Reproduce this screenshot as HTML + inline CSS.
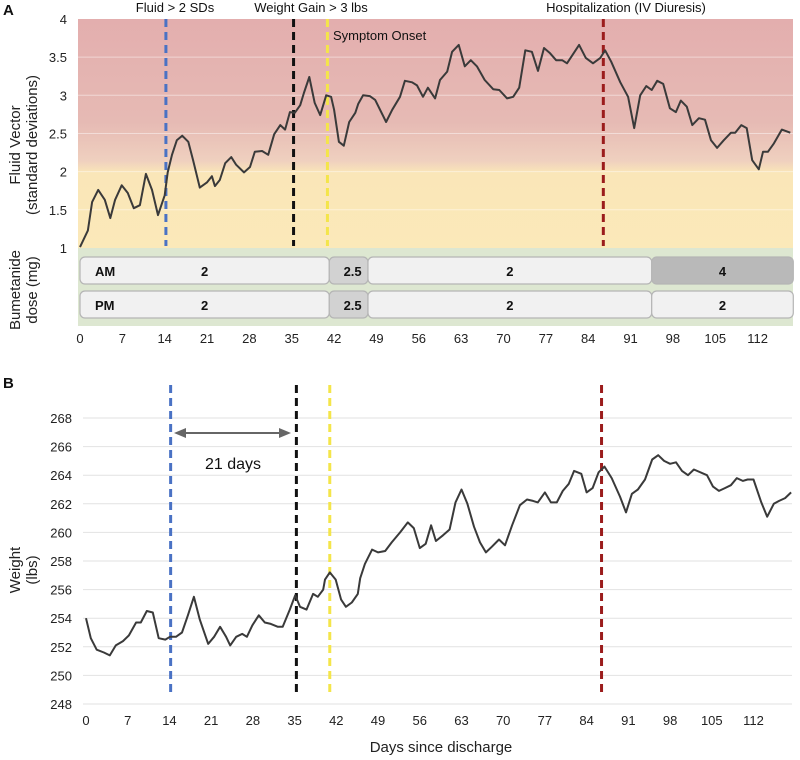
<!DOCTYPE html>
<html><head><meta charset="utf-8"><style>
body{margin:0;background:#fff;}
svg{display:block;font-family:"Liberation Sans",Arial,sans-serif;}
</style></head><body>
<svg id="chart" width="800" height="760" viewBox="0 0 800 760">
<defs>
<linearGradient id="bgA" x1="0" y1="0" x2="0" y2="1">
<stop offset="0" stop-color="#e3aeae"/>
<stop offset="0.45" stop-color="#e6bab4"/>
<stop offset="0.62" stop-color="#efd0bf"/>
<stop offset="0.67" stop-color="#fae6b8"/>
<stop offset="1" stop-color="#fbe9b9"/>
</linearGradient>
</defs>
<g id="pa"></g>
<g id="pb"></g>
</svg>
<script>
const aDays=[0,1.3,2.0,3.0,4.1,5.0,5.8,6.9,7.9,8.9,9.9,10.9,11.9,12.9,14.0,14.5,15.2,16.0,16.9,17.9,18.7,19.8,21.0,21.8,22.3,23.1,24.0,25.0,25.8,27.1,28.1,28.9,30.1,31.1,32.1,33.1,33.9,34.7,35.5,36.4,37.0,37.9,38.8,39.7,40.7,41.5,42.0,42.8,43.6,44.5,45.5,46.0,46.8,47.9,48.8,50.6,51.6,52.9,53.7,54.9,55.7,56.7,57.5,58.7,59.5,60.7,61.5,62.6,63.6,64.6,65.6,66.9,68.3,69.3,70.6,71.6,72.6,73.6,74.7,75.7,76.7,77.7,78.7,79.7,80.5,81.5,82.5,83.6,84.8,86.0,86.8,87.8,89.3,90.6,91.6,92.6,93.6,94.5,95.4,96.4,97.5,98.5,99.3,100.3,101.2,102.3,103.3,104.3,105.3,106.4,107.6,108.3,109.3,110.2,111.1,112.2,112.9,113.7,114.7,116.0,117.4];
const aVals=[1.01,1.23,1.6,1.76,1.63,1.39,1.63,1.82,1.72,1.52,1.56,1.97,1.76,1.43,1.69,1.99,2.22,2.41,2.47,2.39,2.15,1.79,1.86,1.94,1.81,1.89,2.11,2.19,2.09,1.99,2.06,2.26,2.27,2.22,2.49,2.61,2.55,2.78,2.77,2.87,3.03,3.24,2.9,2.74,3.0,2.98,2.81,2.39,2.34,2.65,2.77,2.89,3.0,2.99,2.94,2.65,2.81,2.98,3.19,3.17,3.13,2.98,3.1,2.96,3.2,3.31,3.57,3.66,3.38,3.46,3.38,3.2,3.08,3.07,2.96,2.98,3.1,3.59,3.57,3.32,3.62,3.55,3.46,3.46,3.42,3.54,3.66,3.49,3.42,3.49,3.59,3.44,3.17,2.98,2.57,3.0,3.12,3.07,3.19,3.15,2.83,2.78,2.93,2.85,2.61,2.7,2.68,2.41,2.31,2.41,2.51,2.51,2.61,2.57,2.15,2.03,2.26,2.26,2.37,2.55,2.51];
const bDays=[0,0.8,1.8,3,4,5,6.2,7.2,8.4,9.2,10.2,11.2,12.2,13.3,14.1,15.1,16.1,17.1,18.1,19.1,20.5,21.5,22.5,23.5,24.2,25.2,26.2,27,27.9,29,30,31,32.2,33,34.2,35.1,35.9,37,38.1,38.9,39.8,40.1,40.9,41.9,42.8,43.6,44.6,45.6,46,46.8,48,49,50.2,51.3,52.7,54,55,56,57,57.9,58.7,59.9,61,62,63,64,65.1,66.1,67.1,68.1,69.3,70.3,71.5,72.8,74,75,75.8,77,78,79,80,81,81.9,83.1,84,85,86,87,88.2,89.6,90.6,91.6,92.6,93.8,95,96,97,98,99,100,101,102,104.2,105.2,106.2,107.2,108.2,109.2,110.2,111,112,113.3,114.3,115.4,116.3,117.3,118.3];
const bVals=[254.0,252.6,251.8,251.6,251.4,252.1,252.4,252.8,253.7,253.7,254.5,254.4,252.6,252.5,252.7,252.7,253.0,254.2,255.5,253.9,252.2,252.7,253.4,252.7,252.1,252.7,252.9,252.7,253.5,254.2,253.7,253.6,253.4,253.4,254.6,255.6,254.8,254.6,255.7,255.5,256.0,256.7,257.2,256.7,255.3,254.8,255.1,255.7,256.8,257.8,258.8,258.6,258.7,259.3,260.0,260.7,260.3,258.9,259.2,260.5,259.4,259.8,260.2,262.1,263.0,262.0,260.4,259.3,258.6,259.0,259.5,259.1,260.5,261.9,262.3,262.2,262.1,262.8,262.1,262.1,262.9,263.4,264.3,264.1,262.8,263.1,264.2,264.6,263.8,262.5,261.4,262.7,263.0,263.7,265.1,265.4,265.0,264.8,264.9,264.3,264.0,264.4,264.0,263.2,262.9,263.1,263.3,263.8,263.6,263.7,263.7,262.1,261.1,262.0,262.2,262.4,262.8,262.5];
const xTicks=[0,7,14,21,28,35,42,49,56,63,70,77,84,91,98,105,112];
const aYTicks=[1,1.5,2,2.5,3,3.5,4];
const bYTicks=[248,250,252,254,256,258,260,262,264,266,268];
const eventDays=[14.2,35.3,40.9,86.5];
const eventColors=['#4a72c4','#111111','#f4e54a','#9b1c1c'];
const amDoses=[{s:0,e:41.2,v:'2'},{s:41.2,e:47.6,v:'2.5'},{s:47.6,e:94.5,v:'2'},{s:94.5,e:117.9,v:'4'}];
const pmDoses=[{s:0,e:41.2,v:'2'},{s:41.2,e:47.6,v:'2.5'},{s:47.6,e:94.5,v:'2'},{s:94.5,e:117.9,v:'2'}];

const NS='http://www.w3.org/2000/svg';
function mk(p,t,a,txt){const e=document.createElementNS(NS,t);for(const k in a)e.setAttribute(k,a[k]);if(txt!==undefined)e.textContent=txt;p.appendChild(e);return e;}
const xA=d=>80+d*6.05, yA=v=>19+(4-v)*76.3;
const xB=d=>86+d*5.96, yB=v=>418+(268-v)*14.3;
const pa=document.getElementById('pa'), pb=document.getElementById('pb');

// Panel A
let r=mk(pa,'rect',{x:78,y:19,width:715,height:229,fill:'url(#bgA)'});


r=mk(pa,'rect',{x:78,y:248,width:715,height:78,fill:'#dde7d1'});


aYTicks.forEach(v=>{
  if(v>1&&v<4){const g=mk(pa,'line',{x1:78,x2:793,y1:yA(v),y2:yA(v),stroke:'#ffffff','stroke-opacity':0.45,'stroke-width':1});
  
  }
  const t=mk(pa,'text',{x:67,y:yA(v)+5,'text-anchor':'end','font-size':13,fill:'#222'},String(v));
  
  
});
function doseRow(arr,y,label){
  arr.forEach((d,i)=>{
    const fill=d.v==='4'?'#b9b9b9':(d.v==='2.5'?'#d2d2d2':'#f1f1f1');
    const b=mk(pa,'rect',{x:xA(d.s),y:y,width:xA(d.e)-xA(d.s),height:27,rx:5,fill:fill,stroke:'#b5b5b5','stroke-width':1.2});
    
    
    const t=mk(pa,'text',{x:(xA(d.s)+xA(d.e))/2+(d.v==='2.5'?4:0),y:y+19,'text-anchor':'middle','font-size':13,'font-weight':'bold',fill:'#111'},d.v);
    
    
  });
  const l=mk(pa,'text',{x:95,y:y+19,'font-size':13,'font-weight':'bold',fill:'#111'},label);
  
  
}
doseRow(amDoses,257,'AM');
doseRow(pmDoses,291,'PM');
xTicks.forEach(d=>{
  const t=mk(pa,'text',{x:xA(d),y:343,'text-anchor':'middle','font-size':13,fill:'#222'},String(d));
  
  
});
eventDays.forEach((d,i)=>{
  const l=mk(pa,'line',{x1:xA(d),x2:xA(d),y1:19,y2:246,stroke:eventColors[i],'stroke-width':3,'stroke-dasharray':'8,5'});
  
  
});
let pts=aDays.map((d,i)=>xA(d).toFixed(1)+','+yA(aVals[i]).toFixed(1)).join(' ');
let pl=mk(pa,'polyline',{points:pts,fill:'none',stroke:'#3a3a3a','stroke-width':2,'stroke-linejoin':'round'});


[['Fluid > 2 SDs',175,12,'middle'],['Weight Gain > 3 lbs',311,12,'middle'],['Symptom Onset',333,40,'start'],['Hospitalization (IV Diuresis)',626,12,'middle']].forEach(a=>{
  const t=mk(pa,'text',{x:a[1],y:a[2],'text-anchor':a[3],'font-size':13,fill:'#111'},a[0]);
  
  
});
let t=mk(pa,'text',{x:3,y:15,'font-size':15,'font-weight':'bold',fill:'#111'},'A');


t=mk(pa,'text',{transform:'translate(20,145) rotate(-90)','text-anchor':'middle','font-size':15,fill:'#222'},'Fluid Vector');


t=mk(pa,'text',{transform:'translate(37,145) rotate(-90)','text-anchor':'middle','font-size':15,fill:'#222'},'(standard deviations)');


t=mk(pa,'text',{transform:'translate(20,290) rotate(-90)','text-anchor':'middle','font-size':15,fill:'#222'},'Bumetanide');


t=mk(pa,'text',{transform:'translate(37,290) rotate(-90)','text-anchor':'middle','font-size':15,fill:'#222'},'dose (mg)');



// Panel B
bYTicks.forEach(v=>{
  const g=mk(pb,'line',{x1:83,x2:792,y1:yB(v),y2:yB(v),stroke:'#e2e2e2','stroke-width':1});
  
  
  const t=mk(pb,'text',{x:72,y:yB(v)+5,'text-anchor':'end','font-size':13,fill:'#222'},String(v));
  
  
});
xTicks.forEach(d=>{
  const t=mk(pb,'text',{x:xB(d),y:725,'text-anchor':'middle','font-size':13,fill:'#222'},String(d));
  
  
});
eventDays.forEach((d,i)=>{
  const l=mk(pb,'line',{x1:xB(d),x2:xB(d),y1:385,y2:697,stroke:eventColors[i],'stroke-width':3,'stroke-dasharray':'8,5'});
  
  
});
pts=bDays.map((d,i)=>xB(d).toFixed(1)+','+yB(bVals[i]).toFixed(1)).join(' ');
pl=mk(pb,'polyline',{points:pts,fill:'none',stroke:'#3a3a3a','stroke-width':2,'stroke-linejoin':'round'});


const ar=mk(pb,'g',{});


mk(ar,'line',{x1:182,x2:284,y1:433,y2:433,stroke:'#666','stroke-width':2});
mk(ar,'polygon',{points:'174,433 186,428 186,438',fill:'#666'});
mk(ar,'polygon',{points:'291,433 279,428 279,438',fill:'#666'});
t=mk(pb,'text',{x:233,y:469,'text-anchor':'middle','font-size':16,fill:'#111'},'21 days');


t=mk(pb,'text',{x:3,y:388,'font-size':15,'font-weight':'bold',fill:'#111'},'B');


t=mk(pb,'text',{transform:'translate(20,570) rotate(-90)','text-anchor':'middle','font-size':15,fill:'#222'},'Weight');


t=mk(pb,'text',{transform:'translate(37,570) rotate(-90)','text-anchor':'middle','font-size':15,fill:'#222'},'(lbs)');


t=mk(pb,'text',{x:441,y:752,'text-anchor':'middle','font-size':15,fill:'#222'},'Days since discharge');


</script>
</body></html>
